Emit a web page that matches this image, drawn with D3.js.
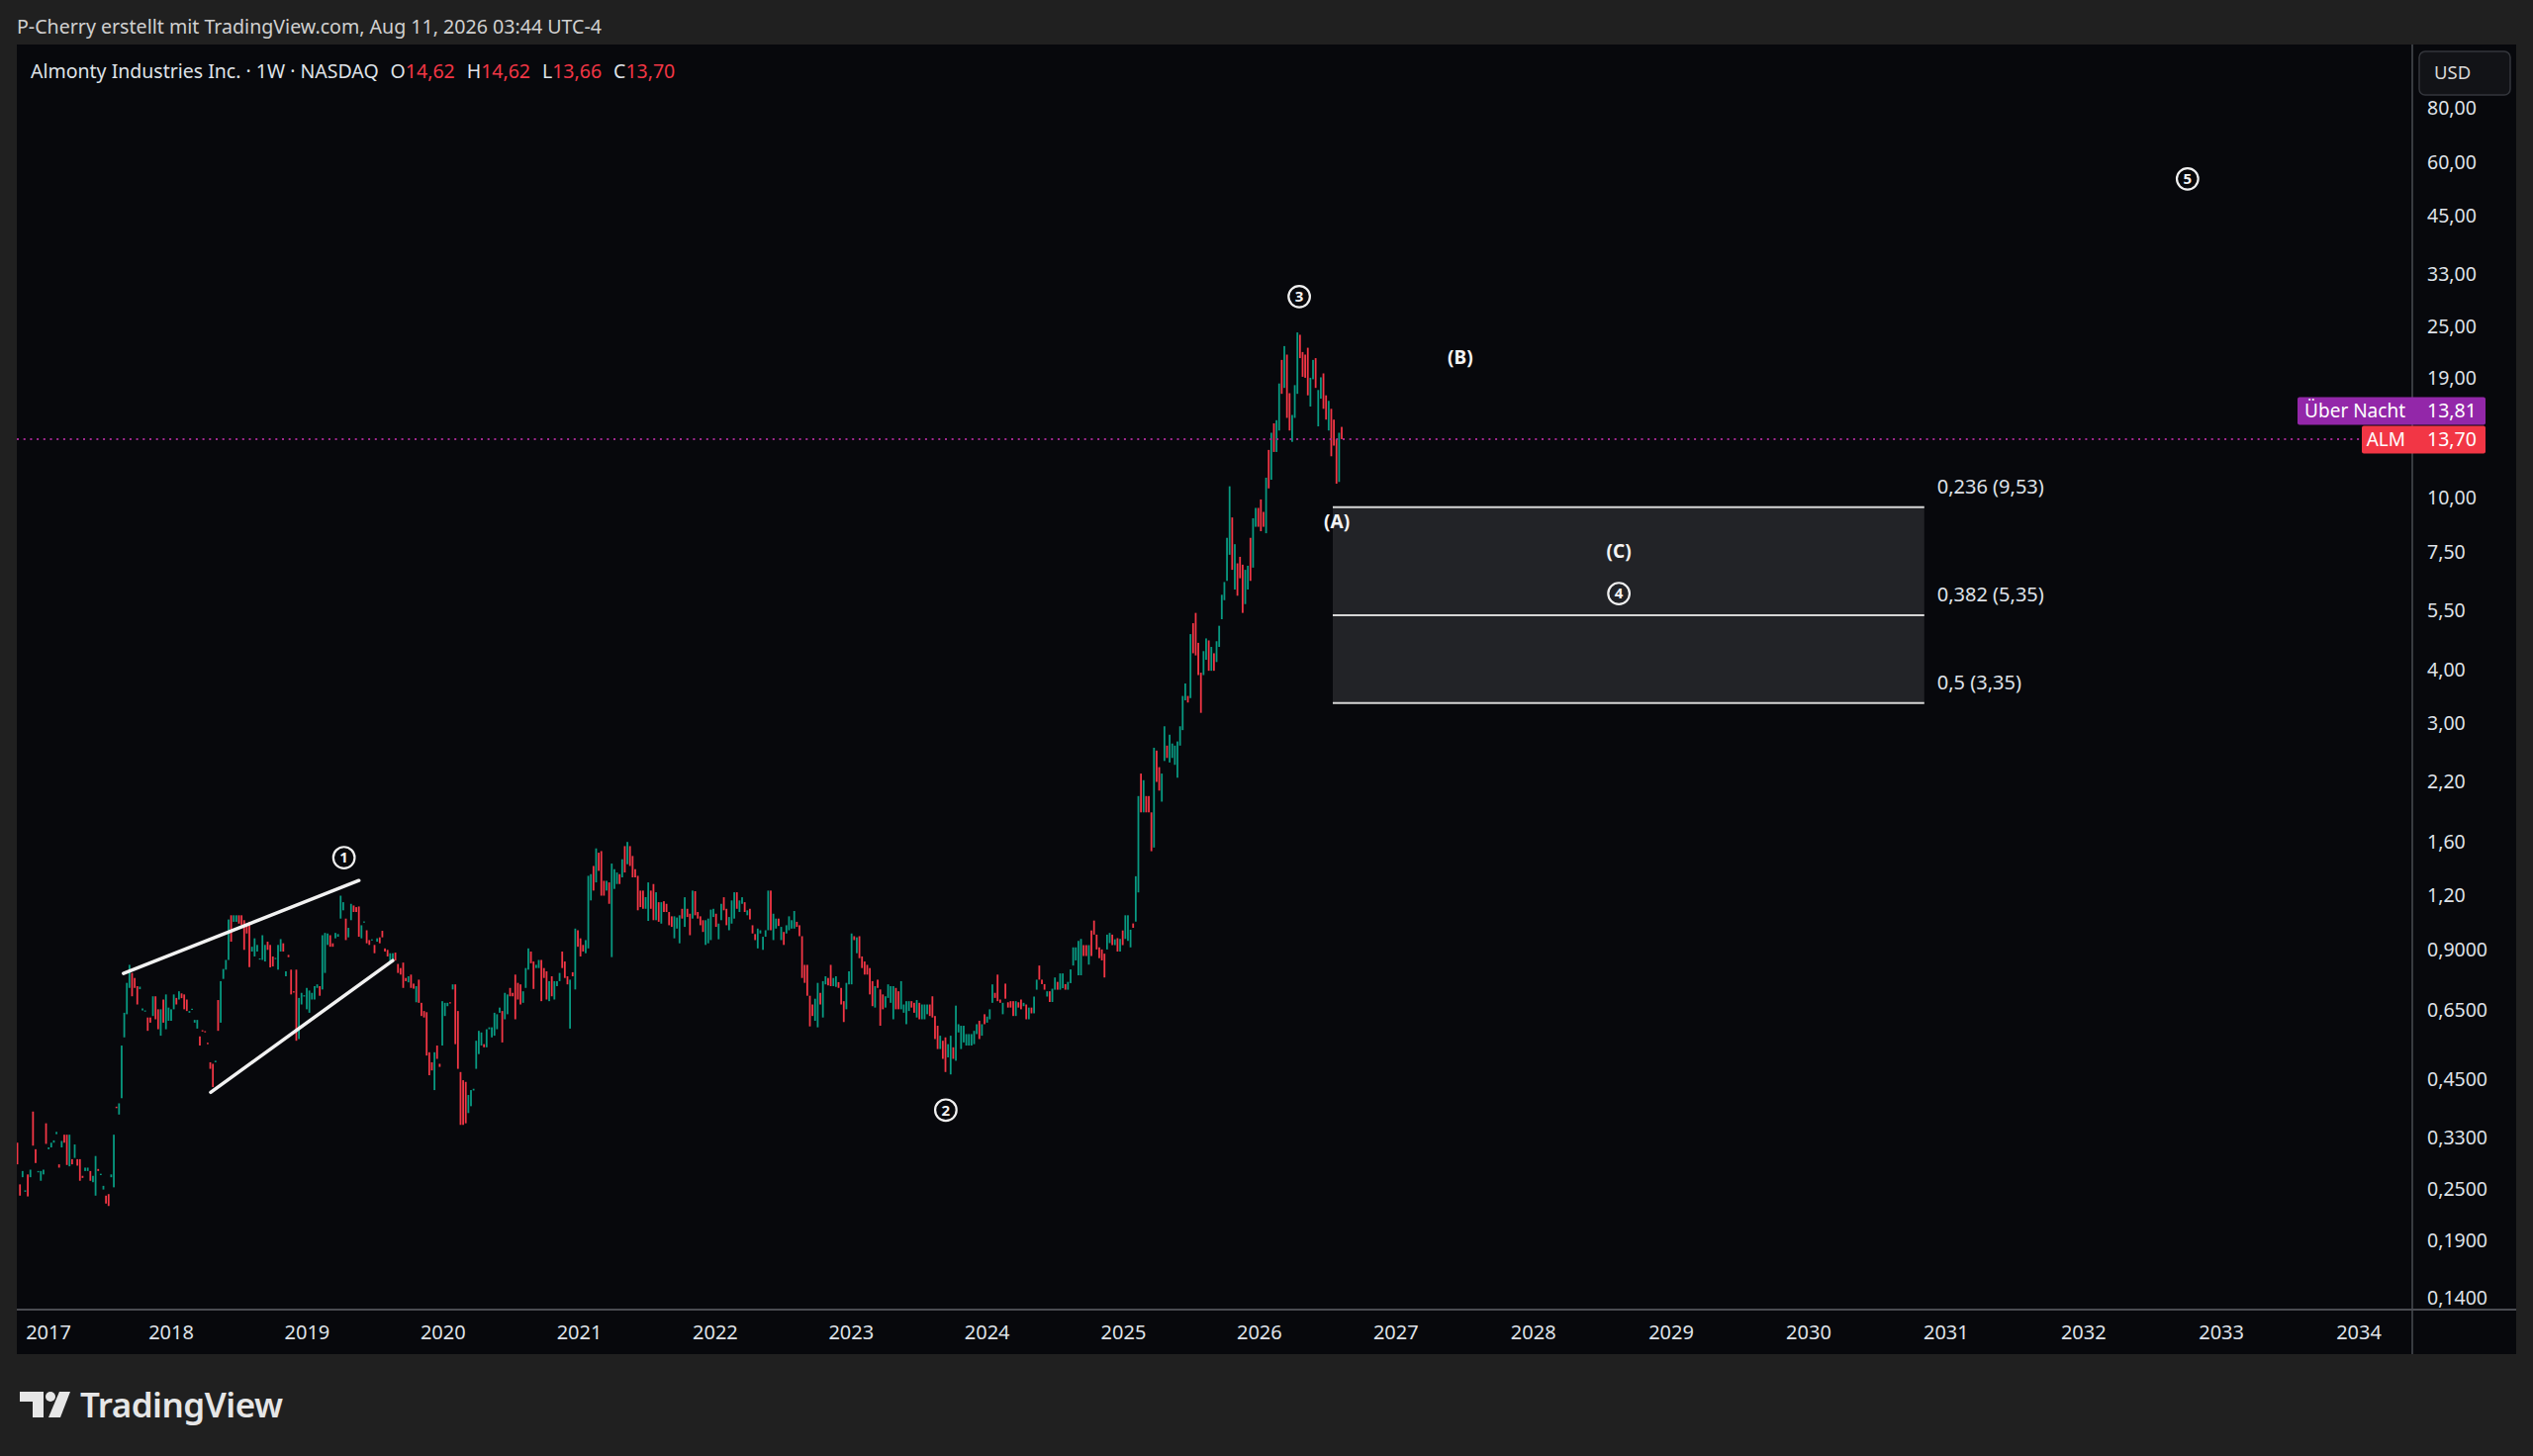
<!DOCTYPE html>
<html lang="de">
<head>
<meta charset="UTF-8">
<title>Almonty Industries Inc. 1W</title>
<script src="https://d3js.org/d3.v7.min.js"></script>
<style>
  html, body { margin: 0; background: #202020; }
  svg { display: block; font-family: "Noto Sans", sans-serif; }
</style>
</head>
<body>
<svg id="chart" width="2560" height="1472"></svg>
<script>
// weekly candles, oldest first; the last one is the week of lastWeek
const lastWeek = "2026-08-10";
const opens = [
  0.330,
  0.321,0.257,0.267,0.247,0.271,0.267,0.379,0.310,0.274,0.262,0.271,0.356,0.310,0.313,0.321,0.336,0.286,0.313,0.335,0.335,
  0.283,0.294,0.296,0.294,0.294,0.269,0.276,0.276,0.276,0.260,0.242,0.279,0.270,0.250,0.242,0.244,0.267,0.253,0.389,0.373,
  0.407,0.563,0.637,0.733,0.794,0.773,0.740,0.728,0.650,0.646,0.626,0.626,0.631,0.701,0.654,0.568,0.689,0.588,0.615,0.615,
  0.654,0.695,0.689,0.712,0.708,0.689,0.642,0.652,0.609,0.590,0.566,0.585,0.582,0.547,0.493,0.489,0.493,0.687,0.609,0.769,
  0.808,0.851,1.080,1.043,1.043,1.080,1.080,1.052,1.033,1.043,0.890,0.867,0.890,0.855,0.851,0.844,0.938,0.922,0.867,0.855,
  0.808,0.890,0.930,0.780,0.874,0.808,0.720,0.808,0.558,0.671,0.700,0.654,0.642,0.689,0.689,0.733,0.740,0.727,0.794,0.922,
  0.971,0.930,0.955,0.963,1.061,1.109,1.061,0.960,1.052,1.138,1.128,1.132,0.955,1.040,0.997,0.946,0.945,0.922,0.938,0.960,
  0.994,0.905,0.898,0.836,0.851,0.885,0.833,0.815,0.839,0.773,0.755,0.787,0.750,0.679,0.766,0.677,0.648,0.644,0.520,0.493,
  0.425,0.539,0.489,0.539,0.631,0.665,0.679,0.727,0.747,0.648,0.468,0.448,0.444,0.376,0.390,0.424,0.476,0.515,0.539,0.543,
  0.534,0.588,0.563,0.568,0.588,0.642,0.648,0.620,0.637,0.733,0.714,
  0.787,0.753,0.747,0.677,0.733,0.808,0.890,0.844,0.815,0.815,0.851,0.815,0.801,0.683,0.780,0.689,0.740,0.760,0.890,0.844,
  0.780,0.590,0.797,0.727,0.997,0.955,0.922,0.882,0.905,1.169,1.405,1.287,1.508,1.521,1.298,1.232,1.287,0.864,1.243,1.276,
  1.345,1.322,1.562,1.418,1.562,1.482,1.381,1.333,1.232,1.232,1.118,1.048,1.232,1.276,1.052,1.158,1.033,1.164,1.148,1.099,
  1.074,0.955,1.006,0.930,1.118,1.015,1.118,1.089,1.061,1.228,1.099,1.074,1.052,0.922,0.930,0.946,1.070,1.089,0.950,1.052,
  1.189,1.118,0.997,1.033,1.061,1.221,1.099,1.148,1.158,1.080,1.118,1.024,0.977,0.905,0.980,0.898,0.963,0.997,1.232,0.946,
  1.006,1.061,0.946,0.988,0.980,0.997,1.006,1.006,1.043,1.024,0.966,0.829,0.829,0.703,0.671,0.615,0.594,0.714,0.626,0.747,
  0.773,0.829,0.740,0.737,0.756,0.733,0.683,0.654,0.747,0.747,0.966,0.882,0.966,0.867,0.844,0.829,0.815,0.760,0.660,0.766,
  0.727,0.708,0.660,0.695,0.677,0.620,0.733,0.720,0.654,0.642,0.604,0.648,0.683,0.677,0.626,0.677,0.620,0.620,0.637,0.671,
  0.701,0.631,0.599,0.529,0.553,0.563,0.506,0.462,0.534,0.497,0.578,0.529,0.548,0.539,0.539,0.539,0.543,0.573,0.615,0.568,
  0.637,0.609,0.620,0.677,0.714,0.787,0.689,0.637,0.750,0.679,0.683,0.683,0.631,0.679,0.689,0.665,0.671,
  0.620,0.660,0.640,
  0.726,0.826,0.766,0.748,0.700,0.720,0.680,0.726,0.757,0.726,0.732,0.748,0.726,0.752,0.826,0.849,0.784,0.784,0.921,0.921,
  0.830,0.996,1.050,0.974,0.910,0.900,0.880,0.900,0.931,0.974,0.921,0.956,0.890,0.996,0.952,0.942,0.910,1.034,1.044,1.220,
  2.300,1.870,2.040,2.040,1.870,1.550,2.600,2.380,1.980,2.460,2.670,2.440,2.500,2.410,2.250,2.670,2.900,3.400,3.480,3.440,
  5.130,5.420,4.620,3.940,3.890,4.220,4.680,3.980,4.370,4.170,4.520,5.240,5.800,6.430,7.390,9.020,6.140,7.060,7.310,7.010,
  5.680,6.140,8.090,6.900,8.580,9.490,9.930,9.290,8.290,12.93,11.03,14.90,12.79,14.34,20.90,18.00,21.50,17.50,13.50,15.34,
  17.44,23.90,21.80,21.50,22.30,16.30,18.85,21.10,14.66,17.00,19.45,17.30,14.34,16.10,15.20,13.70,10.90,14.62
];
const closes = [
  0.320,
  0.286,0.242,0.276,0.249,0.241,0.278,0.316,0.288,0.276,0.276,0.278,0.319,0.313,0.321,0.325,0.340,0.281,0.324,0.321,0.285,
  0.335,0.286,0.318,0.284,0.262,0.266,0.281,0.281,0.262,0.269,0.299,0.276,0.272,0.255,0.232,0.229,0.271,0.335,0.386,0.396,
  0.539,0.642,0.753,0.829,0.701,0.733,0.671,0.738,0.657,0.650,0.583,0.609,0.701,0.620,0.588,0.654,0.609,0.708,0.660,0.654,
  0.708,0.671,0.720,0.694,0.654,0.648,0.648,0.656,0.618,0.618,0.539,0.581,0.580,0.543,0.476,0.432,0.497,0.583,0.760,0.811,
  0.851,1.056,0.938,1.080,1.080,1.033,1.024,0.898,0.980,0.819,0.913,0.955,0.922,0.858,0.971,0.922,0.898,0.818,0.822,0.860,
  0.922,0.951,0.890,0.801,0.864,0.708,0.715,0.553,0.695,0.714,0.705,0.733,0.723,0.714,0.740,0.747,0.703,0.971,0.983,0.980,
  0.913,0.913,0.983,0.977,1.199,1.158,0.946,1.010,1.148,1.099,1.099,0.963,1.024,1.045,0.930,0.922,0.950,0.882,0.955,0.930,
  0.960,0.890,0.867,0.882,0.882,0.848,0.794,0.787,0.733,0.760,0.780,0.733,0.730,0.740,0.677,0.631,0.626,0.511,0.460,0.472,
  0.520,0.502,0.481,0.683,0.677,0.677,0.675,0.747,0.543,0.476,0.353,0.353,0.356,0.414,0.425,0.428,0.553,0.583,0.578,0.534,
  0.588,0.594,0.594,0.642,0.637,0.660,0.548,0.714,0.708,0.701,0.701,
  0.620,0.689,0.671,0.720,0.815,0.905,0.836,0.729,0.829,0.851,0.683,0.773,0.689,0.760,0.701,0.760,0.760,0.794,0.815,0.773,
  0.747,0.766,0.780,1.006,0.913,0.867,0.890,0.946,1.333,1.345,1.232,1.543,1.369,1.199,1.199,1.298,1.148,1.423,1.381,1.357,
  1.276,1.456,1.357,1.597,1.405,1.322,1.322,1.109,1.128,1.118,1.190,1.287,1.118,1.052,1.221,1.043,1.158,1.099,1.099,1.024,
  1.015,1.074,1.067,1.080,1.061,1.189,1.070,0.971,1.232,1.080,1.061,1.024,0.988,1.052,1.061,1.113,1.118,1.015,1.033,1.148,
  1.109,1.024,1.070,1.169,1.221,1.118,1.169,1.189,1.099,1.109,1.056,0.980,0.946,1.006,0.997,0.963,0.997,1.232,0.997,1.089,
  1.061,1.020,1.015,0.922,1.024,1.074,1.052,1.105,1.015,0.966,0.773,0.753,0.703,0.597,0.631,0.692,0.753,0.671,0.760,0.780,
  0.743,0.740,0.773,0.780,0.733,0.671,0.611,0.753,0.801,0.980,0.946,0.960,0.859,0.815,0.787,0.787,0.708,0.665,0.740,0.733,
  0.599,0.654,0.701,0.747,0.740,0.740,0.654,0.654,0.760,0.671,0.683,0.683,0.660,0.642,0.687,0.620,0.671,0.671,0.671,0.631,
  0.626,0.558,0.529,0.568,0.502,0.468,0.543,0.568,0.502,0.667,0.604,0.599,0.599,0.573,0.573,0.573,0.583,0.604,0.558,0.604,
  0.604,0.629,0.654,0.747,0.695,0.683,0.677,0.677,0.692,0.660,0.660,0.631,0.683,0.660,0.654,0.677,0.620,
  0.660,0.640,0.700,
  0.766,0.766,0.748,0.726,0.720,0.680,0.730,0.775,0.726,0.792,0.792,0.726,0.757,0.809,0.910,0.910,0.942,0.952,0.869,0.869,
  0.921,0.869,0.974,0.900,0.859,0.849,0.775,0.974,0.983,0.921,0.950,0.890,0.952,0.921,1.080,1.080,1.000,1.010,1.330,2.040,
  1.870,2.220,1.870,1.870,1.520,2.640,2.200,2.100,2.300,2.960,2.500,2.830,2.700,2.670,2.730,2.960,3.480,3.720,3.360,4.840,
  4.370,4.320,3.890,3.180,4.420,4.730,3.980,4.520,3.980,4.660,5.060,5.970,6.390,8.090,10.65,6.820,7.820,5.940,6.520,5.420,
  6.820,6.970,6.430,8.980,9.490,8.580,8.380,8.580,11.15,10.53,14.17,12.79,15.15,18.43,17.44,22.50,15.34,14.34,15.58,18.27,
  24.20,21.10,19.10,19.00,17.30,19.00,20.90,18.00,17.80,19.05,16.10,15.20,16.80,12.50,13.23,10.80,14.17,13.70
];
const legendOHLC = [14.62, 14.62, 13.66, 13.70];
const lastPrice = 13.70;
const overnightPrice = 13.81;

const priceTicks = [80, 60, 45, 33, 25, 19, 10, 7.5, 5.5, 4, 3, 2.2, 1.6, 1.2, 0.9, 0.65, 0.45, 0.33, 0.25, 0.19, 0.14];
const yearTicks = d3.range(2017, 2035);

// Fibonacci retracement (log), drawn from the July 2026 bar into 2030
const fibLevels = [0.236, 0.382, 0.5];
const fibPrices = [9.53, 5.35, 3.35];
const fibSpan = ["2026-07-17", "2030-11-04"];

// diagonal of wave 1
const wedgeLines = [
  [["2017-08-26", 0.792], ["2019-05-20", 1.300]],
  [["2018-04-17", 0.420], ["2019-08-19", 0.848]]
];

// Elliott wave labels: [text, date, price, circled]
const waveLabels = [
  ["1", "2019-04-10", 1.469, true],
  ["2", "2023-09-12", 0.382, true],
  ["3", "2026-04-18", 29.3, true],
  ["4", "2028-08-15", 6.01, true],
  ["5", "2032-10-03", 54.9, true],
  ["(A)", "2026-07-28", 8.83, false],
  ["(B)", "2027-06-21", 21.2, false],
  ["(C)", "2028-08-15", 7.54, false]
];

const W = 2560, H = 1472;
const panel = { left: 17, top: 45, right: 2543, bottom: 1369 };
const plot = { left: 17, top: 45, right: 2438, bottom: 1324 };
const upColor = "#089981", downColor = "#f23645";
const textColor = "#dfe2e8";

const parse = d3.utcParse("%Y-%m-%d");
const fmtPrice = v => (v >= 1 ? v.toFixed(2) : v.toFixed(4)).replace(".", ",");

const last = parse(lastWeek);
const bars = opens.map((o, i) => ({
  date: d3.utcDay.offset(last, -7 * (opens.length - 1 - i)),
  open: o,
  close: closes[i]
}));

const x = d3.scaleUtc()
  .domain([Date.UTC(2018, 0, 1), last, Date.UTC(2034, 0, 1)])
  .range([173, 1356, 2384]);

const y = d3.scaleLog()
  .domain([0.14, 80])
  .range([1312.5, 109.5]);

const svg = d3.select("#chart");

svg.append("rect").attr("width", W).attr("height", H).attr("fill", "#202020");

svg.append("text")
  .attr("x", 17).attr("y", 34)
  .attr("fill", "#d0d0d0").attr("font-size", 19.6)
  .text("P-Cherry erstellt mit TradingView.com, Aug 11, 2026 03:44 UTC-4");

svg.append("rect")
  .attr("x", panel.left).attr("y", panel.top)
  .attr("width", panel.right - panel.left).attr("height", panel.bottom - panel.top)
  .attr("fill", "#07080c");

svg.append("clipPath").attr("id", "plotClip")
  .append("rect")
  .attr("x", plot.left).attr("y", plot.top)
  .attr("width", plot.right - plot.left).attr("height", plot.bottom - plot.top);

const g = svg.append("g").attr("clip-path", "url(#plotClip)");

// fib boxes
const fx0 = x(parse(fibSpan[0])), fx1 = x(parse(fibSpan[1]));
g.selectAll("rect.fib")
  .data(d3.pairs(fibPrices))
  .join("rect")
  .attr("class", "fib")
  .attr("x", fx0).attr("width", fx1 - fx0)
  .attr("y", d => y(d[0])).attr("height", d => y(d[1]) - y(d[0]))
  .attr("fill", "#222327");
g.selectAll("line.fib")
  .data(fibPrices)
  .join("line")
  .attr("class", "fib")
  .attr("x1", fx0).attr("x2", fx1)
  .attr("y1", d => y(d)).attr("y2", d => y(d))
  .attr("stroke", "#d6d6d6").attr("stroke-width", 2);
g.selectAll("text.fib")
  .data(fibLevels)
  .join("text")
  .attr("class", "fib")
  .attr("x", fx1 + 13)
  .attr("y", (d, i) => y(fibPrices[i]) - 14)
  .attr("fill", textColor).attr("font-size", 20)
  .text((d, i) => `${String(d).replace(".", ",")} (${fmtPrice(fibPrices[i])})`);

// candles
g.selectAll("rect.bar")
  .data(bars)
  .join("rect")
  .attr("class", "bar")
  .attr("x", d => x(d.date) - 0.9)
  .attr("width", 1.8)
  .attr("y", d => y(Math.max(d.open, d.close)))
  .attr("height", d => Math.max(1.2, y(Math.min(d.open, d.close)) - y(Math.max(d.open, d.close))))
  .attr("fill", d => d.close >= d.open ? upColor : downColor);

// last price line
g.append("line")
  .attr("x1", plot.left).attr("x2", plot.right)
  .attr("y1", y(lastPrice)).attr("y2", y(lastPrice))
  .attr("stroke", "#a0288f").attr("stroke-width", 2)
  .attr("stroke-dasharray", "2 4.7");

// wedge lines
g.selectAll("line.wedge")
  .data(wedgeLines)
  .join("line")
  .attr("class", "wedge")
  .attr("x1", d => x(parse(d[0][0]))).attr("y1", d => y(d[0][1]))
  .attr("x2", d => x(parse(d[1][0]))).attr("y2", d => y(d[1][1]))
  .attr("stroke", "#f2f2f2").attr("stroke-width", 3.5).attr("stroke-linecap", "round");

// wave labels
const wl = g.selectAll("g.wave")
  .data(waveLabels)
  .join("g")
  .attr("class", "wave")
  .attr("transform", d => `translate(${x(parse(d[1]))},${y(d[2])})`);
wl.filter(d => d[3]).append("circle")
  .attr("r", 10.8).attr("fill", "none")
  .attr("stroke", "#f0f0f0").attr("stroke-width", 2.2);
wl.append("text")
  .attr("text-anchor", "middle").attr("dy", "0.36em")
  .attr("fill", "#f4f4f4").attr("font-weight", 700)
  .attr("font-size", d => d[3] ? 15 : 19)
  .text(d => d[0]);

// axes
svg.append("line")
  .attr("x1", plot.right).attr("x2", plot.right)
  .attr("y1", panel.top).attr("y2", panel.bottom)
  .attr("stroke", "#4a4c52").attr("stroke-width", 1.5);
svg.append("line")
  .attr("x1", panel.left).attr("x2", panel.right)
  .attr("y1", plot.bottom).attr("y2", plot.bottom)
  .attr("stroke", "#4a4c52").attr("stroke-width", 2);

const yAxis = svg.append("g")
  .attr("transform", `translate(${plot.right},0)`)
  .call(d3.axisRight(y).tickValues(priceTicks).tickFormat(fmtPrice).tickSize(0).tickPadding(15));
yAxis.select(".domain").remove();
yAxis.selectAll("text")
  .attr("fill", textColor).attr("font-size", 19.5)
  .attr("font-family", "Noto Sans, sans-serif");

const xAxis = svg.append("g")
  .attr("transform", `translate(0,${plot.bottom})`)
  .call(d3.axisBottom(x).tickValues(yearTicks.map(v => new Date(Date.UTC(v, 0, 1))))
    .tickFormat(d3.utcFormat("%Y")).tickSize(0).tickPadding(16));
xAxis.select(".domain").remove();
xAxis.selectAll(".tick")
  .attr("transform", d => `translate(${Math.max(49, x(d))},0)`);
xAxis.selectAll("text")
  .attr("fill", textColor).attr("font-size", 20)
  .attr("font-family", "Noto Sans, sans-serif");

// price labels on the axis
const priceTag = (price, yPos, name, color, leftX) => {
  const tag = svg.append("g");
  tag.append("rect")
    .attr("x", leftX).attr("y", yPos - 14)
    .attr("width", 2512 - leftX).attr("height", 28)
    .attr("rx", 2).attr("fill", color);
  tag.append("text")
    .attr("x", plot.right - 7).attr("y", yPos).attr("dy", "0.35em")
    .attr("text-anchor", "end").attr("fill", "#ffffff").attr("font-size", 19)
    .text(name);
  tag.append("text")
    .attr("x", plot.right + 15).attr("y", yPos).attr("dy", "0.35em")
    .attr("fill", "#ffffff").attr("font-size", 19.5)
    .text(fmtPrice(price));
};
const lastY = y(lastPrice);
priceTag(lastPrice, lastY + 0.5, "ALM", "#f23645", 2387);
priceTag(overnightPrice, lastY - 28.5, "Über Nacht", "#9327a9", 2322);

// currency button
svg.append("rect")
  .attr("x", 2445).attr("y", 52).attr("width", 92).attr("height", 44)
  .attr("rx", 6).attr("fill", "#121317").attr("stroke", "#34363c").attr("stroke-width", 1.5);
svg.append("text")
  .attr("x", 2460).attr("y", 74).attr("dy", "0.35em")
  .attr("fill", "#d8d8d8").attr("font-size", 18.5)
  .text("USD");

// legend
const legend = svg.append("text")
  .attr("x", 31).attr("y", 79)
  .attr("font-size", 19.5).attr("fill", textColor);
legend.append("tspan").text("Almonty Industries Inc. · 1W · NASDAQ");
["O", "H", "L", "C"].forEach((k, i) => {
  legend.append("tspan").attr("dx", i === 0 ? 12 : 12).attr("fill", textColor).text(k);
  legend.append("tspan").attr("fill", "#f23645").text(fmtPrice(legendOHLC[i]));
});

// TradingView logo
const logo = svg.append("g").attr("fill", "#e6e6e6");
logo.append("path").attr("d", "M20,1407 H44 V1433 H33 V1417 H20 Z");
logo.append("circle").attr("cx", 51).attr("cy", 1412).attr("r", 5);
logo.append("path").attr("d", "M60,1407 H71 L61,1433 H49 Z");
logo.append("text")
  .attr("x", 81).attr("y", 1433)
  .attr("font-size", 35).attr("font-weight", 600).attr("letter-spacing", -0.5)
  .text("TradingView");
</script>
</body>
</html>
